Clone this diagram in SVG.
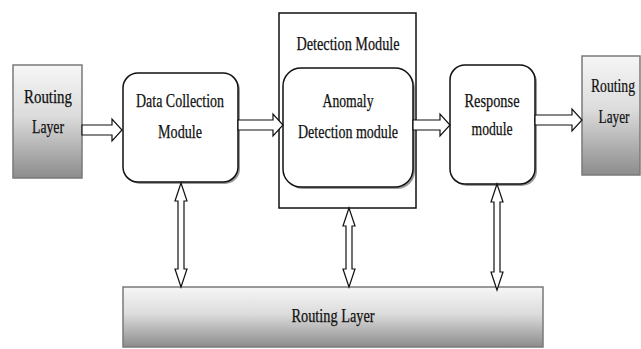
<svg xmlns="http://www.w3.org/2000/svg" width="641" height="349" viewBox="0 0 641 349">
<defs>
<linearGradient id="gr" x1="0" y1="0" x2="0" y2="1">
<stop offset="0" stop-color="#f6f6f6"/>
<stop offset="0.45" stop-color="#dcdcdc"/>
<stop offset="1" stop-color="#8c8c8c"/>
</linearGradient>
<style>
.route{fill:url(#gr);stroke:#7a7a7a;stroke-width:1.5}
.mod{fill:#fff;stroke:#111;stroke-width:1.5}
.sh{fill:#9a9a9a;stroke:none}
.arr{fill:#fff;stroke:#111;stroke-width:1.2;stroke-linejoin:miter}
text{font-family:"Liberation Serif","Times New Roman",serif;font-size:19px;fill:#111;stroke:#111;stroke-width:0.25;text-anchor:middle}
</style>
</defs>
<rect width="641" height="349" fill="#fff"/>

<g id="routing-left">
<rect class="route" x="13" y="65" width="69" height="113"/>
<text x="48" y="103" textLength="48" lengthAdjust="spacingAndGlyphs">Routing</text>
<text x="48" y="133" textLength="32" lengthAdjust="spacingAndGlyphs">Layer</text>
</g>

<g id="data-collection">
<rect class="sh" x="125" y="75" width="115" height="109" rx="15"/>
<rect class="mod" x="123" y="73" width="115" height="109" rx="15"/>
<text x="180" y="107" textLength="88" lengthAdjust="spacingAndGlyphs">Data Collection</text>
<text x="180" y="138" textLength="44" lengthAdjust="spacingAndGlyphs">Module</text>
</g>

<g id="detection-module">
<rect class="mod" x="279" y="13" width="137" height="195"/>
<text x="348" y="50" textLength="103" lengthAdjust="spacingAndGlyphs">Detection Module</text>
</g>

<g id="anomaly-detection">
<rect class="sh" x="285" y="70" width="130" height="119" rx="18"/>
<rect class="mod" x="283" y="68" width="130" height="119" rx="18"/>
<text x="348" y="107" textLength="51" lengthAdjust="spacingAndGlyphs">Anomaly</text>
<text x="348" y="138" textLength="100" lengthAdjust="spacingAndGlyphs">Detection module</text>
</g>

<g id="response">
<rect class="sh" x="452" y="67" width="85" height="119" rx="15"/>
<rect class="mod" x="450" y="65" width="85" height="119" rx="15"/>
<text x="492" y="107" textLength="55" lengthAdjust="spacingAndGlyphs">Response</text>
<text x="492" y="135" textLength="41" lengthAdjust="spacingAndGlyphs">module</text>
</g>

<g id="routing-right">
<rect class="route" x="582" y="56" width="58" height="119"/>
<text transform="translate(613,92) scale(0.72,1)" x="0" y="0">Routing</text>
<text transform="translate(614,123) scale(0.7,1)" x="0" y="0">Layer</text>
</g>

<g id="routing-bottom">
<rect class="route" x="123" y="287" width="420" height="60"/>
<text x="333" y="322" textLength="83" lengthAdjust="spacingAndGlyphs">Routing Layer</text>
</g>

<g id="connectors">
<polygon class="arr" points="82,125 112,125 112,119 122,130 112,141 112,135 82,135"/>
<polygon class="arr" points="238,120 273,120 273,114 283,125 273,136 273,130 238,130"/>
<polygon class="arr" points="413,120 440,120 440,114 450,125 440,136 440,130 413,130"/>
<polygon class="arr" points="535,115 572,115 572,109 582,120 572,131 572,125 535,125"/>
<polygon class="arr" points="181,183 187,201 184,201 184,269 187,269 181,287 175,269 178,269 178,201 175,201"/>
<polygon class="arr" points="349,208 355,226 352,226 352,269 355,269 349,287 343,269 346,269 346,226 343,226"/>
<polygon class="arr" points="497,184 503,202 500,202 500,272 503,272 497,290 491,272 494,272 494,202 491,202"/>
</g>
</svg>
